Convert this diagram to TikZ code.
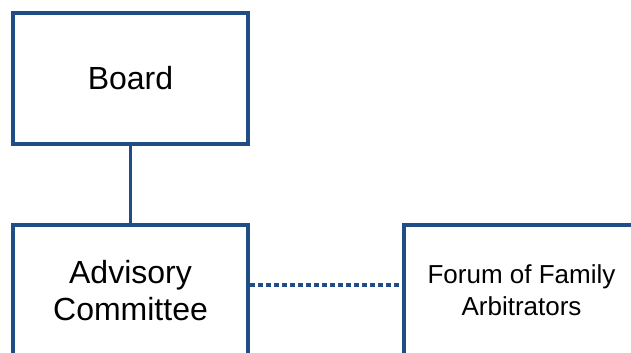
\documentclass[tikz,border=0pt]{standalone}
\usepackage{fontspec}
\setmainfont{Liberation Sans}
\definecolor{boxblue}{RGB}{33,77,134}
\begin{document}
\begin{tikzpicture}[x=1bp,y=1bp,
  orgbox/.style={draw=boxblue, line width=3.5bp, fill=white, rectangle,
    minimum width=235bp, minimum height=131bp, inner sep=0pt, align=center},
  bigtext/.style={font=\fontsize{32bp}{37bp}\selectfont},
  smalltext/.style={font=\fontsize{26bp}{31.7bp}\selectfont},
  solidlink/.style={draw=boxblue, line width=3.5bp},
  dottedlink/.style={draw=boxblue, line width=3.5bp, dash pattern=on 5bp off 3bp}]
\useasboundingbox (0,0) rectangle (631,352);
\clip (0,0) rectangle (631,352);
\node[orgbox, bigtext] (board) at (130.5,273.5) {Board};
\node[orgbox, bigtext] (adv) at (130.5,61.5) {Advisory\\Committee};
\node[orgbox, smalltext] (forum) at (521.5,61.5) {Forum of Family\\Arbitrators};
\draw[solidlink] (board.south) -- (adv.north);
\draw[dottedlink] ([yshift=5.5bp]adv.east) -- ([yshift=5.5bp]forum.west);
\end{tikzpicture}
\end{document}
